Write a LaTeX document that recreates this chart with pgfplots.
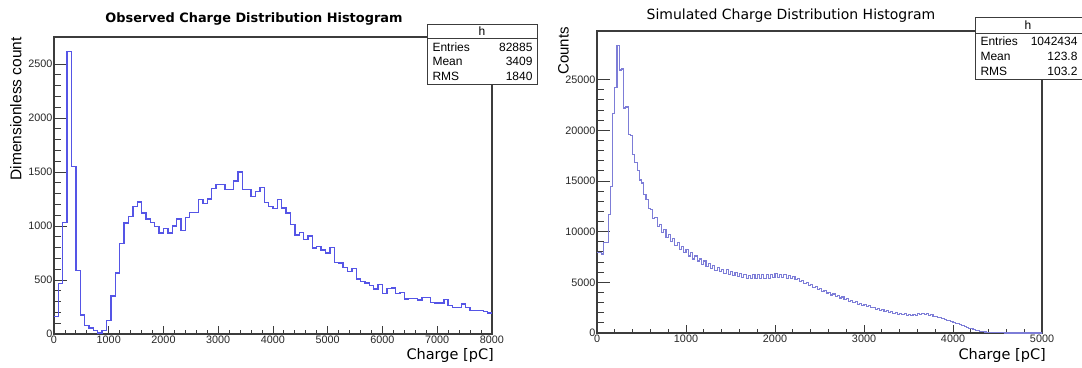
\documentclass[border=0pt]{standalone}
\usepackage{pgfplots}
\pgfplotsset{compat=1.18}
\usepackage{pgfplotstable}
\usepackage{fontspec}
\setmainfont{Liberation Sans}
\newfontfamily\dejavu{DejaVu Sans}
\definecolor{obsline}{RGB}{85,85,230}
\definecolor{simline}{RGB}{125,125,215}
\definecolor{frame}{RGB}{60,60,60}

\pgfplotstableread[header=false]{
160
470
1030
2615
1552
586
176
77
55
35
8
30
125
352
563
840
1028
1086
1182
1222
1120
1065
1034
997
935
978
935
1000
1065
957
1077
1123
1123
1244
1210
1250
1349
1386
1386
1336
1340
1417
1500
1340
1336
1272
1321
1358
1219
1179
1164
1244
1167
1120
1012
917
941
873
907
796
812
778
750
802
664
657
617
580
608
509
485
472
448
417
457
377
423
426
377
383
324
330
330
315
336
336
293
287
287
318
262
247
247
278
247
216
219
219
210
194
194
}\obsdata

\pgfplotstableread[header=false]{
7950
7900
7800
8950
8950
11650
14450
21650
24200
28400
25950
26050
22200
22300
19600
19500
17600
16800
16000
15100
14800
13700
13200
12300
12200
11300
11400
10500
10700
9900
10200
9400
9700
9000
9300
8600
8900
8200
8500
7900
8200
7600
7900
7300
7600
7100
7300
6800
7100
6600
6900
6400
6700
6200
6500
6050
6300
5900
6250
5800
6100
5700
6000
5600
5850
5500
5800
5400
5700
5350
5750
5400
5800
5400
5750
5350
5750
5400
5800
5450
5850
5500
5800
5450
5750
5400
5700
5350
5600
5250
5400
5100
5200
4900
5000
4700
4800
4500
4600
4300
4400
4100
4200
3950
4000
3750
3850
3600
3700
3450
3550
3300
3400
3150
3250
3000
3100
2850
2950
2750
2800
2600
2700
2500
2550
2350
2450
2250
2300
2150
2200
2050
2100
1950
2000
1850
1950
1800
1900
1750
1850
1700
1850
1750
1900
1800
1950
1800
1900
1750
1800
1650
1650
1550
1500
1400
1350
1250
1200
1100
1050
950
900
800
750
650
560
480
420
350
290
230
180
140
100
70
50
35
25
18
12
8
5
3
2
1
0
0
0
0
0
0
0
0
0
0
0
0
0
0
0
0
0
}\simdata

\pgfplotsset{
  rootaxis/.style={
    scale only axis,
    anchor=south west,
    axis line style={draw=frame, line width=1.1pt},
    tick style={draw=frame, line width=0.9pt},
    tick align=inside,
    xtick pos=lower, ytick pos=left,
    minor x tick num=4, minor y tick num=4,
    scaled ticks=false,
    /pgf/number format/assume math mode=true,
    /pgf/number format/set thousands separator={},
    tick label style={font=\fontsize{10.8}{12}\selectfont, text=black!85},
    yticklabel style={inner sep=1.5pt},
    xticklabel style={inner sep=2pt},
    xtick style={/pgfplots/major tick length=8pt, /pgfplots/minor tick length=4pt},
    ytick style={/pgfplots/major tick length=13pt, /pgfplots/minor tick length=6.5pt},
  }
}

\begin{document}
\begin{tikzpicture}[x=1pt,y=1pt]
\useasboundingbox (0,0) rectangle (1082,367);

% ---------- Left: observed ----------
\begin{axis}[rootaxis,
  at={(54pt,33pt)}, width=438pt, height=297pt,
  xmin=0, xmax=8000, ymin=0, ymax=2750,
  xtick={0,1000,...,8000}, ytick={0,500,...,2500}]
\addplot[const plot, color=obsline, line width=1.4pt, line join=miter] table[x expr=\coordindex*80, y index=0] {\obsdata};
\end{axis}

% ---------- Right: simulated ----------
\begin{axis}[rootaxis,
  at={(597pt,34pt)}, width=445pt, height=302pt,
  xmin=0, xmax=5000, ymin=0, ymax=29800,
  xtick={0,1000,...,5000}, ytick={0,5000,...,25000}]
\addplot[const plot, color=simline, line width=1.1pt, line join=miter] table[x expr=\coordindex*25, y index=0] {\simdata};
\end{axis}

% titles
\node[font=\dejavu\bfseries\fontsize{12.9}{14}\selectfont] at (254,348) {Observed Charge Distribution Histogram};
\node[font=\dejavu\fontsize{14}{16}\selectfont] at (791,351) {Simulated Charge Distribution Histogram};

% axis labels
\node[font=\fontsize{15.5}{17}\selectfont, rotate=90, anchor=north east, inner sep=0pt] at (10,330) {Dimensionless count};
\node[font=\fontsize{15}{17}\selectfont, rotate=90, anchor=north east, inner sep=0pt] at (558,340) {Counts};
\node[font=\dejavu\fontsize{14.5}{16}\selectfont, anchor=east, inner sep=0pt] at (494,12) {Charge [pC]};
\node[font=\dejavu\fontsize{14.5}{16}\selectfont, anchor=east, inner sep=0pt] at (1046,12) {Charge [pC]};

% stats box left
\begin{scope}[font=\fontsize{12}{14}\selectfont]
\draw[fill=white, draw=frame, line width=0.9pt] (427,283) rectangle (537,343);
\draw[draw=frame, line width=0.8pt] (427,329) -- (537,329);
\node at (482,336) {h};
\node[anchor=west] at (429,320) {Entries};
\node[anchor=east] at (536,320) {82885};
\node[anchor=west] at (429,305.5) {Mean};
\node[anchor=east] at (536,305.5) {3409};
\node[anchor=west] at (429,291) {RMS};
\node[anchor=east] at (536,291) {1840};
\end{scope}

% stats box right
\begin{scope}[font=\fontsize{12}{14}\selectfont]
\draw[fill=white, draw=frame, line width=0.9pt] (975,288) rectangle (1095,350);
\draw[draw=frame, line width=0.8pt] (975,334) -- (1095,334);
\node at (1028,342) {h};
\node[anchor=west] at (977,326) {Entries};
\node[anchor=east] at (1081,326) {1042434};
\node[anchor=west] at (977,311) {Mean};
\node[anchor=east] at (1081,311) {123.8};
\node[anchor=west] at (977,296) {RMS};
\node[anchor=east] at (1081,296) {103.2};
\end{scope}
\end{tikzpicture}
\end{document}
